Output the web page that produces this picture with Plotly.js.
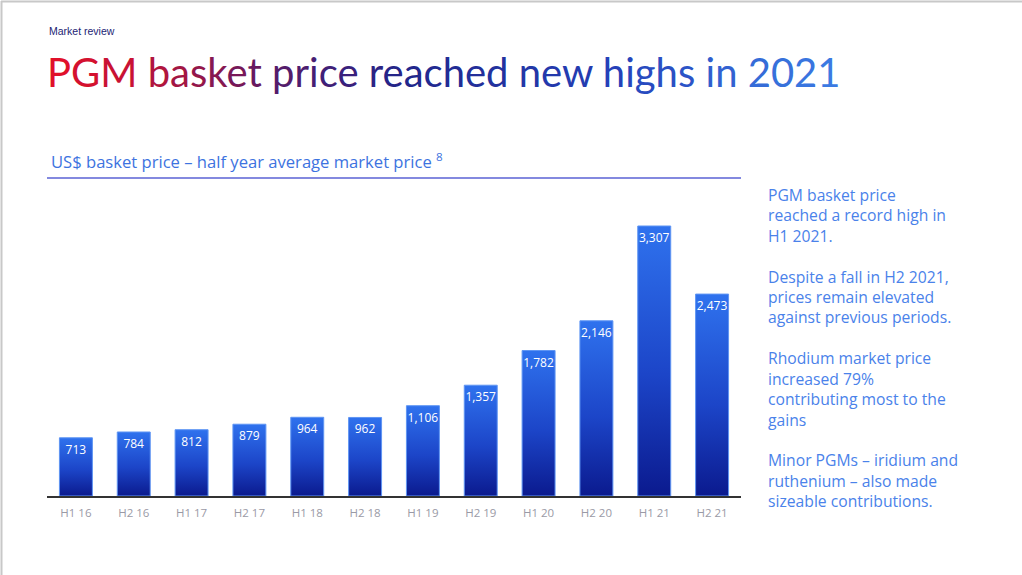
<!DOCTYPE html>
<html>
<head>
<meta charset="utf-8">
<script src="https://cdn.plot.ly/plotly-3.0.1.min.js"></script>
<style>
html,body{margin:0;padding:0;background:#fff;}
#chart{width:1022px;height:575px;}
</style>
</head>
<body>
<div id="chart"></div>
<script>
// ---- data ----
const periods = ["H1 16","H2 16","H1 17","H2 17","H1 18","H2 18","H1 19","H2 19","H1 20","H2 20","H1 21","H2 21"];
const basketPrice = [713, 784, 812, 879, 964, 962, 1106, 1357, 1782, 2146, 3307, 2473];

const titleText = "PGM basket price reached new highs in 2021";
const subtitleText = "US$ basket price \u2013 half year average market price <sup>8</sup>";
const kickerText = "Market review";
const commentaryLines = [
  "PGM basket price", "reached a record high in", "H1 2021.", " ",
  "Despite a fall in H2 2021,", "prices remain elevated", "against previous periods.", " ",
  "Rhodium market price", "increased 79%", "contributing most to the", "gains", " ",
  "Minor PGMs \u2013 iridium and", "ruthenium \u2013 also made", "sizeable contributions."
];

// ---- layout geometry (pixels) ----
const W = 1022, H = 575;
const L = 47, R = 741, T = 200, B = 496;
const px = x => (x - L) / (R - L);
const py = y => (B - y) / (B - T);

// gradient title colouring (style only)
function hex(c){return [parseInt(c.slice(1,3),16),parseInt(c.slice(3,5),16),parseInt(c.slice(5,7),16)];}
const stops = [[0,"#e0102a"],[0.1,"#b0153e"],[0.24,"#5c1a66"],[0.45,"#22268a"],[0.7,"#2440b8"],[1,"#3b7ae2"]];
function colAt(t){
  for(let i=0;i<stops.length-1;i++){
    const [t0,c0]=stops[i],[t1,c1]=stops[i+1];
    if(t>=t0&&t<=t1){
      const f=(t-t0)/(t1-t0||1), a=hex(c0), b=hex(c1);
      return "rgb("+a.map((v,k)=>Math.round(v+(b[k]-v)*f)).join(",")+")";
    }
  }
  return stops[stops.length-1][1];
}
const titleHtml = titleText.split("").map((ch,i)=>
  ch===" " ? " " : '<span style="color:'+colAt(i/(titleText.length-1))+'">'+ch+'</span>').join("");

const trace = {
  type: "bar",
  x: periods,
  y: basketPrice,
  texttemplate: "%{y:,.0f}",
  textposition: "inside",
  insidetextanchor: "end",
  textangle: 0,
  constraintext: "none",
  insidetextfont: {family: "'Open Sans', Lato, sans-serif", size: 12, color: "#ffffff"},
  marker: {color: "#1a45c8", line: {color: "#5f95f3", width: 1}},
  hoverinfo: "skip",
  cliponaxis: false
};

const layout = {
  width: W, height: H,
  margin: {l: L, r: W - R, t: T, b: H - B},
  paper_bgcolor: "#ffffff",
  plot_bgcolor: "#ffffff",
  bargap: 0.43,
  showlegend: false,
  font: {family: "'Open Sans', sans-serif"},
  xaxis: {
    type: "category",
    range: [-0.5, 11.5],
    showline: true, linecolor: "#333333", linewidth: 2,
    showgrid: false, zeroline: false, ticks: "",
    ticklabelstandoff: 5,
    tickfont: {family: "'Open Sans', sans-serif", size: 11.5, color: "#9a9aa6"},
    fixedrange: true
  },
  yaxis: {
    range: [0, 3307 * (B - T) / (B - 226)],
    visible: false, showgrid: false, zeroline: false, fixedrange: true
  },
  shapes: [
    {type: "line", xref: "paper", yref: "paper", x0: px(47), x1: px(741), y0: py(178), y1: py(178),
     line: {color: "#5a62d4", width: 1.5}},
    {type: "line", xref: "paper", yref: "paper", x0: px(1.5), x1: px(1.5), y0: py(1), y1: py(575),
     line: {color: "#c8c8c8", width: 2}},
    {type: "line", xref: "paper", yref: "paper", x0: px(1), x1: px(1022), y0: py(1.5), y1: py(1.5),
     line: {color: "#c8c8c8", width: 2}}
  ],
  annotations: [
    {xref: "paper", yref: "paper", x: px(47), y: py(31), xanchor: "left", yanchor: "middle",
     text: kickerText, showarrow: false,
     font: {family: "'Liberation Sans Narrow', 'Liberation Sans', Arial, sans-serif", size: 10.5, color: "#1c2474"}},
    {xref: "paper", yref: "paper", x: px(45), y: py(72), xanchor: "left", yanchor: "middle",
     text: titleHtml, showarrow: false,
     font: {family: "Lato, sans-serif", size: 40}},
    {xref: "paper", yref: "paper", x: px(49), y: py(161), xanchor: "left", yanchor: "middle",
     text: subtitleText, showarrow: false,
     font: {family: "'Open Sans', sans-serif", size: 16.6, color: "#3d73e0"}},
    {xref: "paper", yref: "paper", x: px(766), y: py(182), xanchor: "left", yanchor: "top",
     align: "left", text: commentaryLines.join("<br>"), showarrow: false,
     font: {family: "'Open Sans', sans-serif", size: 15.7, color: "#4a82ea"}}
  ]
};

Plotly.newPlot("chart", [trace], layout, {staticPlot: true, displayModeBar: false}).then(gd => {
  const svg = gd.querySelector(".main-svg");
  let defs = svg.querySelector("defs");
  const NS = "http://www.w3.org/2000/svg";
  const grad = document.createElementNS(NS, "linearGradient");
  grad.setAttribute("id", "barGrad");
  grad.setAttribute("x1", "0"); grad.setAttribute("y1", "0");
  grad.setAttribute("x2", "0"); grad.setAttribute("y2", "1");
  [["0%","#2f72ee"],["55%","#1c45c8"],["100%","#0b1a8e"]].forEach(([o,c])=>{
    const s = document.createElementNS(NS, "stop");
    s.setAttribute("offset", o); s.setAttribute("stop-color", c);
    grad.appendChild(s);
  });
  defs.appendChild(grad);
  gd.querySelectorAll(".trace.bars .point path").forEach(p => {
    p.style.fill = "url(#barGrad)";
  });
});
</script>
</body>
</html>
